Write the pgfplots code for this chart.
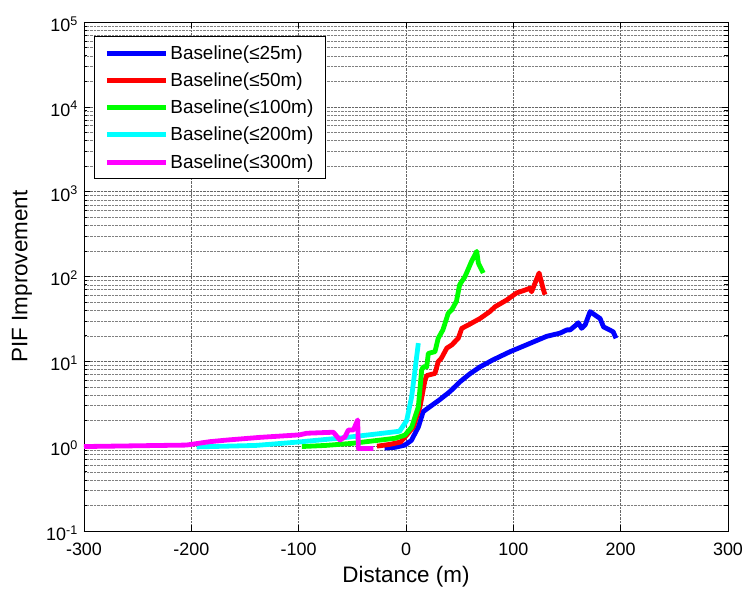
\documentclass[border=0pt]{standalone}
\usepackage{fontspec}
\setmainfont{Liberation Sans}
\usepackage{pgfplots}
\pgfplotsset{compat=1.18}
\definecolor{mblue}{rgb}{0,0,1}
\definecolor{mred}{rgb}{1,0,0}
\definecolor{mgreen}{rgb}{0,1,0}
\definecolor{mcyan}{rgb}{0,1,1}
\definecolor{mmagenta}{rgb}{1,0,1}
\begin{document}
\begin{tikzpicture}
\useasboundingbox (-84bp,-61bp) rectangle (661bp,531bp);
\begin{axis}[
  at={(0,0)}, anchor=south west,
  scale only axis, width=644bp, height=509bp,
  ymode=log, xmin=-300, xmax=300, ymin=1e-1, ymax=1e5,
  xtick={-300,-200,-100,0,100,200,300},
  xticklabels={-300,-200,-100,0,100,200,300},
  ytick={1e-1,1,10,100,1000,1e4,1e5},
  yticklabels={10\textsuperscript{-1},10\textsuperscript{0},10\textsuperscript{1},10\textsuperscript{2},10\textsuperscript{3},10\textsuperscript{4},10\textsuperscript{5}},
  grid=both,
  major grid style={densely dotted, black!60},
  minor grid style={densely dotted, black!50},
  tick align=inside,
  axis line style={black, line width=0.8bp},
  tick style={black, line width=0.6bp},
  major tick length=6bp, minor tick length=3.5bp,
  ticklabel style={font=\fontsize{18}{20}\selectfont, inner sep=1bp},
  xticklabel style={yshift=-11bp},
  yticklabel style={xshift=-5bp, yshift=-2bp},
  xlabel={Distance (m)}, ylabel={PIF Improvement},
  label style={font=\fontsize{22.5}{24}\selectfont},
  xlabel style={at={(axis description cs:0.5,0)}, anchor=center, yshift=-46bp},
  ylabel style={at={(axis description cs:-0.0963,0.5)}, anchor=center},
  legend style={at={(0.0155,0.972)}, anchor=north west, draw=black, line width=0.8bp, fill=white,
    font=\fontsize{19}{20}\selectfont, row sep=8bp, inner xsep=10bp, inner ysep=7bp},
  legend cell align=left,
  legend image code/.code={\draw[#1, line width=5bp] (0bp,0bp) -- (59bp,0bp);},
  every axis plot/.append style={line width=4.8bp, line join=round},
]
\addplot[mblue] coordinates {(-20,0.95) (-10,0.97) (-1,1.03) (5,1.17) (11.5,1.68) (16,2.55) (22,2.9) (31,3.5) (41,4.4) (50,5.7) (60,7.2) (69,8.6) (81,10.4) (97,13) (112,15.6) (131,19.7) (143.5,21.5) (150,23.5) (153,23.5) (158,26.5) (160.6,28.5) (163.6,24.5) (167,27) (171.5,38.5) (180.8,32) (184,25.5) (193,22.3) (195.7,18.7)};
\addlegendentry{Baseline(≤25m)}
\addplot[mred] coordinates {(-27,1.0) (-15,1.05) (-5,1.12) (0.6,1.35) (6.8,1.68) (13,2.9) (17.7,6.0) (19.3,6.8) (27,7.2) (30,9.9) (33,10.9) (38,14.3) (42.6,15.6) (48.7,18.7) (52,24.5) (58,26.8) (69,32) (78,38.5) (83,44) (94,53) (103,64) (112,70) (115.6,73) (117,66) (124,110) (128,70) (129.5,61)};
\addlegendentry{Baseline(≤50m)}
\addplot[mgreen] coordinates {(-97,0.99) (-75,1.02) (-50,1.08) (-24,1.18) (-10,1.24) (-1,1.35) (5.3,1.68) (11.5,2.9) (14.6,7.9) (16,8.6) (19.3,8.6) (20.8,12.4) (27,13) (30,18.7) (34.4,23.5) (39.4,37) (42.6,40.4) (47,51) (50,80) (55,100) (61,150) (65.9,198) (67.4,144) (72,110)};
\addlegendentry{Baseline(≤100m)}
\addplot[mcyan] coordinates {(-195,0.98) (-140,1.02) (-100,1.12) (-60,1.25) (-30,1.38) (-6,1.5) (0.6,2.0) (5.3,3.85) (8.4,7.9) (11.5,16.4)};
\addlegendentry{Baseline(≤200m)}
\addplot[mmagenta] coordinates {(-300,0.99) (-204.6,1.03) (-182.7,1.13) (-167,1.18) (-136,1.27) (-99,1.36) (-92.6,1.42) (-67.7,1.46) (-61.5,1.18) (-56.8,1.29) (-53.7,1.55) (-49,1.55) (-45,2.04) (-44.4,0.94) (-30.4,0.94)};
\addlegendentry{Baseline(≤300m)}
\end{axis}
\end{tikzpicture}
\end{document}
